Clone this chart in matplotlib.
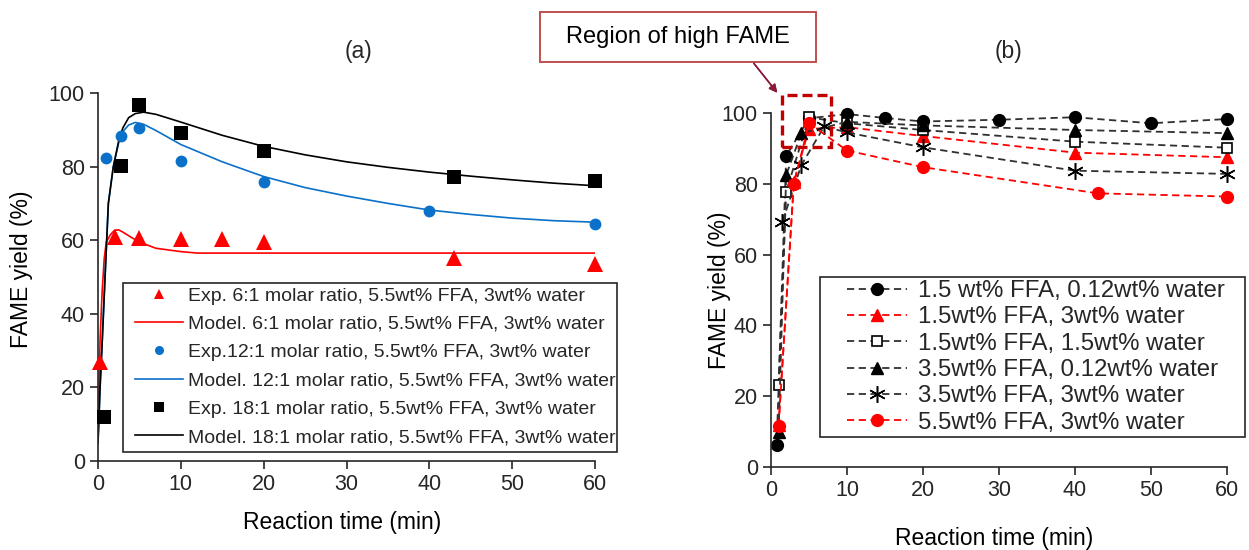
import matplotlib
matplotlib.use("Agg")
import matplotlib.pyplot as plt
from matplotlib.patches import Rectangle
from matplotlib.lines import Line2D

plt.rcParams['font.family'] = ['Liberation Sans', 'DejaVu Sans']
plt.rcParams['text.color'] = '#262626'
plt.rcParams['xtick.color'] = '#262626'
plt.rcParams['ytick.color'] = '#262626'

# ---- (a) experiment points
t_exp6 = [0.25, 2, 5, 10, 15, 20, 43, 60]
y_exp6 = [27, 61, 60.5, 60.4, 60.3, 59.4, 55.1, 53.5]
t_exp12 = [1, 2.75, 5, 10, 20, 40, 60]
y_exp12 = [82.3, 88.2, 90.6, 81.6, 75.9, 68, 64.5]
t_exp18 = [0.75, 2.75, 5, 10, 20, 43, 60]
y_exp18 = [12, 80.2, 96.8, 89.1, 84.3, 77.2, 76.2]

# ---- (a) model curves
t_mod6 = [0, 0.25, 0.5, 0.75, 1, 1.5, 2, 2.5, 3, 4, 5, 7, 10, 12, 60]
y_mod6 = [5, 33, 46, 55, 59.5, 61.5, 62.7, 62.8, 62.2, 60.8, 59.5, 57.8, 56.9, 56.5, 56.5]
t_mod = [0, 0.25, 0.5, 0.85, 1.25, 1.85, 2.5, 3, 3.7, 4.5, 5.5, 7, 10, 15, 20, 25, 30, 35, 40, 45, 50, 55, 60]
y_mod12 = [5, 20, 32, 50, 70, 80, 86.5, 89.5, 91.3, 92, 91.5, 89.8, 86, 81.3, 77.3, 74.3, 72, 70, 68.2, 67, 66, 65.3, 64.9]
y_mod18 = [5, 20, 32, 50, 70, 80, 87, 90.5, 93.3, 94.4, 94.8, 94.2, 92.1, 88.5, 85.5, 83.2, 81.3, 79.8, 78.5, 77.4, 76.4, 75.5, 74.8]

labels_a = ["Exp. 6:1 molar ratio, 5.5wt% FFA, 3wt% water",
            "Model. 6:1 molar ratio, 5.5wt% FFA, 3wt% water",
            "Exp.12:1 molar ratio, 5.5wt% FFA, 3wt% water",
            "Model. 12:1 molar ratio, 5.5wt% FFA, 3wt% water",
            "Exp. 18:1 molar ratio, 5.5wt% FFA, 3wt% water",
            "Model. 18:1 molar ratio, 5.5wt% FFA, 3wt% water"]

# ---- (b) series
t_b1 = [0.75, 2, 5, 10, 15, 20, 30, 40, 50, 60]
y_b1 = [6.3, 87.9, 98.5, 99.7, 98.6, 97.6, 98.1, 98.8, 97.1, 98.3]
t_b2 = [1, 3, 5, 10, 20, 40, 60]
y_b2 = [12, 80.5, 95.5, 96, 93.5, 88.8, 87.5]
t_b3 = [1, 2, 5, 10, 20, 40, 60]
y_b3 = [23.1, 77.8, 98.8, 97.1, 95.2, 91.9, 90.2]
t_b4 = [1, 2, 4, 10, 20, 40, 60]
y_b4 = [10, 82.5, 94.3, 97.5, 96.5, 95.2, 94.3]
t_b5 = [1.5, 4, 7, 10, 20, 40, 60]
y_b5 = [69.3, 85.3, 96.2, 94.5, 90.3, 83.7, 82.8]
t_b6 = [1, 3, 5, 10, 20, 43, 60]
y_b6 = [11.6, 79.9, 97.1, 89.4, 84.7, 77.3, 76.4]

labels_b = ["1.5 wt% FFA, 0.12wt% water",
            "1.5wt% FFA, 3wt% water",
            "1.5wt% FFA, 1.5wt% water",
            "3.5wt% FFA, 0.12wt% water",
            "3.5wt% FFA, 3wt% water",
            "5.5wt% FFA, 3wt% water"]

RED = '#FF0000'
BLUE = '#0A70C8'
BLK = '#000000'
GRY = '#303030'
FS_TICK = 15.5
FS_LAB = 16.5

fig = plt.figure(figsize=(12.49, 5.5), dpi=100)
W, H = 1249, 550


def px_axes(x0, x1, ytop, ybot):
    return fig.add_axes([x0 / W, (H - ybot) / H, (x1 - x0) / W, (ybot - ytop) / H])


def px_rect(x0, x1, ytop, ybot, **kw):
    return Rectangle((x0 / W, 1 - ybot / H), (x1 - x0) / W, (ybot - ytop) / H,
                     transform=fig.transFigure, clip_on=False, **kw)


def style(ax):
    for s in ['top', 'right']:
        ax.spines[s].set_visible(False)
    for s in ['left', 'bottom']:
        ax.spines[s].set_linewidth(1.2)
        ax.spines[s].set_color('#262626')
    ax.tick_params(direction='out', length=6, width=1.2, labelsize=FS_TICK)
    ax.set_xlim(0, 60)
    ax.set_ylim(0, 100)
    ax.set_xticks(range(0, 61, 10))
    ax.set_yticks(range(0, 101, 20))


# ===== panel (a)
ax1 = px_axes(98, 595, 93, 461)
style(ax1)
ax1.plot(t_mod6, y_mod6, color=RED, lw=1.2, zorder=2)
ax1.plot(t_mod, y_mod12, color=BLUE, lw=1.2, zorder=2)
ax1.plot(t_mod, y_mod18, color=BLK, lw=1.2, zorder=2)
ax1.plot(t_exp6, y_exp6, '^', color=RED, ms=12, mew=0, clip_on=False, zorder=3)
ax1.plot(t_exp12, y_exp12, 'o', color=BLUE, ms=8.5, mew=0, clip_on=False, zorder=3)
ax1.plot(t_exp18, y_exp18, 's', color=BLK, ms=10, mew=0, clip_on=False, zorder=3)
ax1.set_xlabel("Reaction time (min)", fontsize=FS_LAB)
ax1.set_ylabel("FAME yield (%)", fontsize=FS_LAB)
ax1.xaxis.set_label_coords(0.491, -0.136)
ax1.yaxis.set_label_coords(-0.131, 0.52)

handles_a = [Line2D([], [], ls='none', marker='^', color=RED, ms=7.5, mew=0),
             Line2D([], [], color=RED, lw=1.2),
             Line2D([], [], ls='none', marker='o', color=BLUE, ms=6.5, mew=0),
             Line2D([], [], color=BLUE, lw=1.2),
             Line2D([], [], ls='none', marker='s', color=BLK, ms=7, mew=0),
             Line2D([], [], color=BLK, lw=1.2)]
ax1.add_patch(px_rect(123, 617, 283, 452, fill=True, fc='white', ec='#262626', lw=1.2, zorder=4))
leg1 = ax1.legend(handles_a, labels_a, loc='upper left',
                  bbox_to_anchor=((135 - 98) / 497, (461 - 287) / 368),
                  fontsize=14.0, frameon=False, borderpad=0, labelspacing=0.55,
                  handlelength=2.45, handletextpad=0.25, borderaxespad=0)
leg1.set_zorder(5)

# ===== panel (b)
ax2 = px_axes(771, 1227, 113, 467)
style(ax2)
dash = dict(ls=(0, (4, 2.5)), lw=1.3, clip_on=False)
ax2.plot(t_b1, y_b1, color=GRY, marker='o', ms=8.5, mfc=BLK, mec=BLK, **dash)
ax2.plot(t_b2, y_b2, color=RED, marker='^', ms=8.5, mfc=RED, mec=RED, **dash)
ax2.plot(t_b3, y_b3, color=GRY, marker='s', ms=7, mfc='white', mec=BLK, mew=1.2, **dash)
ax2.plot(t_b4, y_b4, color=GRY, marker='^', ms=8.5, mfc=BLK, mec=BLK, **dash)
ax2.plot(t_b5, y_b5, color=GRY, marker=(6, 2, 0), ms=12, mec=BLK, mew=1.1, **dash)
ax2.plot(t_b6, y_b6, color=RED, marker='o', ms=8.5, mfc=RED, mec=RED, **dash)
ax2.set_xlabel("Reaction time (min)", fontsize=FS_LAB)
ax2.set_ylabel("FAME yield (%)", fontsize=FS_LAB)
ax2.xaxis.set_label_coords(0.489, -0.17)
ax2.yaxis.set_label_coords(-0.088, 0.5)

ax2.add_patch(px_rect(820, 1245, 277, 437, fill=True, fc='white', ec='#262626', lw=1.2, zorder=4))
leg2 = ax2.legend(labels_b, loc='upper left',
                  bbox_to_anchor=((847 - 771) / 456, (467 - 280) / 354),
                  fontsize=17.3, frameon=False, borderpad=0, labelspacing=0.18,
                  handlelength=2.5, handletextpad=0.45, borderaxespad=0)
leg2.set_zorder(5)

# dashed "region of high FAME" box
ax2.add_patch(Rectangle((1.4, 90.5), 6.5, 14.6, fill=False, ec='#C00000',
                        lw=2.4, ls=(0, (3, 1.5)), clip_on=False, zorder=6))

# titles
fig.text(359 / W, 1 - 52 / H, "(a)", fontsize=16.5, ha='center', va='center')
fig.text(1008 / W, 1 - 52 / H, "(b)", fontsize=16.5, ha='center', va='center')

# callout box
fig.add_artist(px_rect(540, 816, 12, 62, fill=False, ec='#C0504D', lw=1.4))
fig.text(678 / W, 1 - 37 / H, "Region of high FAME", fontsize=17,
         ha='center', va='center', color='#000000')
fig.add_artist(plt.annotate("", xy=(779, H - 95), xytext=(752, H - 61),
                            xycoords='figure pixels', textcoords='figure pixels',
                            arrowprops=dict(arrowstyle='-|>', color='#8B1A3A',
                                            lw=1.1, mutation_scale=12)))

fig.savefig("out.png", dpi=100)
